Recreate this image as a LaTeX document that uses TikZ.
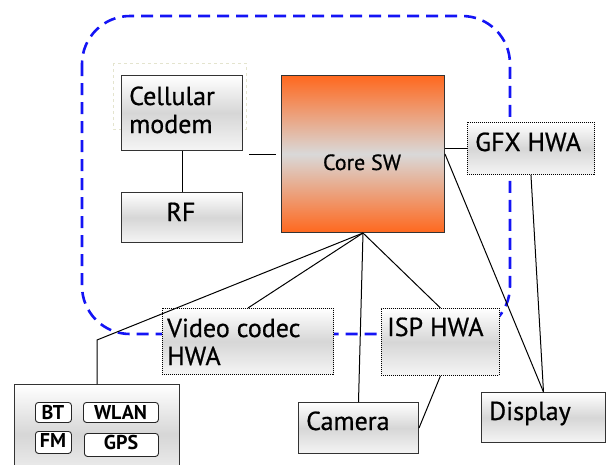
\documentclass[tikz,border=0pt]{standalone}
\usepackage{fontspec}
\setmainfont{PT Sans}
\newfontfamily\labelfont{PT Sans}[FakeBold=0.7]
\definecolor{coreorange}{RGB}{255,104,30}
\definecolor{paleframe}{RGB}{228,228,206}
\definecolor{groupblue}{RGB}{20,20,245}
\tikzset{
  gloss/.style={draw=black!80, line width=1pt, top color=white, bottom color=black!4,
    middle color=black!16, anchor=north west, inner sep=0pt},
  hwa/.style={gloss, draw=black, dash pattern=on 1pt off 1pt, line width=0.9pt},
  lbl/.style={font=\labelfont\fontsize{26}{28}\selectfont, anchor=base west, inner sep=0pt},
  wire/.style={draw=black, line width=1pt},
  chip/.style={draw=black!85, line width=0.9pt, fill=white, rounded corners=3pt,
    anchor=north west, inner sep=0pt},
  chiplbl/.style={font=\bfseries\fontsize{20}{20}\selectfont, anchor=base, inner sep=0pt},
}
\begin{document}
\begin{tikzpicture}[x=1pt,y=-1pt]
\useasboundingbox (0,0) rectangle (606,464);
\clip (0,0) rectangle (606,464);

% software group boundary
\draw[groupblue, line width=2.6pt, dash pattern=on 12pt off 7pt, rounded corners=48pt]
  (82,16) rectangle (510,334);
\draw[paleframe, dashed, line width=0.8pt] (113,63) rectangle (246,129);

% blocks
\node[gloss, minimum width=121pt, minimum height=75pt] (cell) at (121,75) {};
\node[gloss, minimum width=121pt, minimum height=50pt] (rf) at (121,192) {};
\node[gloss, top color=coreorange, bottom color=coreorange, middle color=black!15,
  minimum width=163pt, minimum height=157pt] (core) at (281,75) {};
\node[hwa, minimum width=127pt, minimum height=52pt] (gfx) at (467,122) {};
\node[hwa, minimum width=171pt, minimum height=66pt] (video) at (162,308) {};
\node[hwa, minimum width=118pt, minimum height=67pt] (isp) at (381,308) {};
\node[gloss, minimum width=124pt, minimum height=50pt] (display) at (481,392) {};
\node[gloss, minimum width=120pt, minimum height=51pt] (cam) at (298,402) {};
\node[gloss, minimum width=165pt, minimum height=100pt] (radio) at (14,384) {};

% radio chips
\node[chip, minimum width=36pt, minimum height=20pt] (bt) at (35,402) {};
\node[chip, minimum width=75pt, minimum height=20pt] (wlan) at (83,402) {};
\node[chip, minimum width=36pt, minimum height=22pt] (fm) at (35,431) {};
\node[chip, minimum width=74pt, minimum height=23pt] (gps) at (84,433) {};

% labels
\node[lbl] (t-cell1) at (129,105) {Cellular};
\node[lbl] (t-cell2) at (129,133) {modem};
\node[lbl, anchor=base] (t-rf) at (181,221) {RF};
\node[lbl, anchor=base, font=\labelfont\fontsize{22}{24}\selectfont] (t-core) at (362,170) {Core SW};
\node[lbl] (t-gfx) at (475,151) {GFX HWA};
\node[lbl] (t-video1) at (167,337) {Video codec};
\node[lbl] (t-video2) at (167,365) {HWA};
\node[lbl] (t-isp) at (387,336) {ISP HWA};
\node[lbl] (t-display) at (489,420) {Display};
\node[lbl] (t-cam) at (306,430) {Camera};
\node[chiplbl] (t-bt) at (53,419) {BT};
\node[chiplbl] (t-wlan) at (120.5,419) {WLAN};
\node[chiplbl] (t-fm) at (53,447) {FM};
\node[chiplbl] (t-gps) at (121,449) {GPS};

% connections
\coordinate (hub) at (core.south);
\coordinate (bend) at (radio.north |- 0,340);
\draw[wire] (cell.south) -- (rf.north);
\draw[wire] ([xshift=6pt]cell.east |- core.west) -- ([xshift=-5pt]core.west);
\draw[wire] (core.east |- gfx.west) -- (gfx.west);
\draw[wire] (core.east) -- (display.north);
\draw[wire] (gfx.south) -- (display.north);
\draw[wire] (hub) -- (video.north);
\draw[wire] (hub) -- (isp.north);
\draw[wire] (hub) -- (cam.north);
\draw[wire] (hub) -- (bend) -- (radio.north);
\draw[wire] (isp.south) -- (cam.east);
\end{tikzpicture}
\end{document}
